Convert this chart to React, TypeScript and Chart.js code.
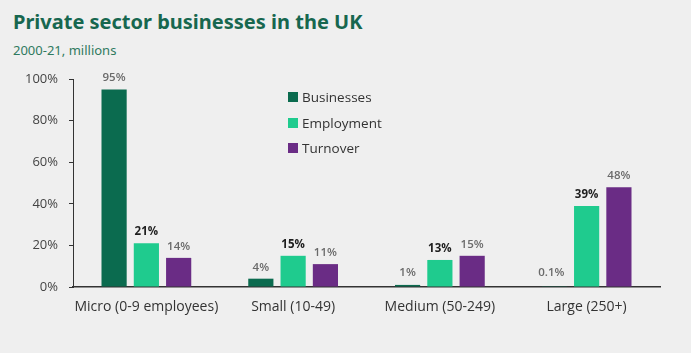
import React, { useEffect, useRef } from "react";
import { Chart, registerables } from "chart.js";

Chart.register(...registerables);

const categories = ["Micro (0-9 employees)", "Small (10-49)", "Medium (50-249)", "Large (250+)"];
const businesses = [95, 4, 1, 0.1];
const employment = [21, 15, 13, 39];
const turnover = [14, 11, 15, 48];
const yTicks = [0, 20, 40, 60, 80, 100];
const seriesNames = ["Businesses", "Employment", "Turnover"];
const seriesColors = ["#0b6b4f", "#1fcb8e", "#6a2c85"];

const labelsPlugin = {
  id: "valueLabels",
  afterDatasetsDraw(chart: any) {
    const ctx = chart.ctx;
    const zero = chart.scales.y.getPixelForValue(0);
    ctx.save();
    chart.data.datasets.forEach((ds: any, di: number) => {
      const meta = chart.getDatasetMeta(di);
      meta.data.forEach((bar: any, i: number) => {
        const v = ds.data[i];
        const bold = di === 1;
        ctx.font = (bold ? "bold " : "600 ") + "11.5px 'Open Sans', sans-serif";
        ctx.fillStyle = bold ? "#1e1e1e" : "#6a6a6a";
        ctx.textAlign = "center";
        ctx.textBaseline = "alphabetic";
        const txt = (v < 1 ? v.toFixed(1) : String(v)) + "%";
        const y = Math.min(bar.y - 8, zero - 11);
        const x = di === 0 && v < 1 ? bar.x - 3 : bar.x;
        ctx.fillText(txt, x, y);
      });
    });
    // legend
    const lx = 288;
    const ly = [97, 123, 148];
    seriesNames.forEach((name, i) => {
      ctx.fillStyle = seriesColors[i];
      ctx.fillRect(lx, ly[i] - 5, 10, 10);
      ctx.fillStyle = "#333333";
      ctx.font = "13.5px 'Open Sans', sans-serif";
      ctx.textAlign = "left";
      ctx.textBaseline = "middle";
      ctx.fillText(name, lx + 14, ly[i] + 1);
    });
    ctx.restore();
  },
};

export default function App() {
  const ref = useRef<HTMLCanvasElement>(null);
  useEffect(() => {
    if (!ref.current) return;
    const chart = new Chart(ref.current, {
      type: "bar",
      data: {
        labels: categories,
        datasets: [
          { label: seriesNames[0], data: businesses, backgroundColor: seriesColors[0] },
          { label: seriesNames[1], data: employment, backgroundColor: seriesColors[1] },
          { label: seriesNames[2], data: turnover, backgroundColor: seriesColors[2] },
        ],
      },
      options: {
        animation: false,
        responsive: false,
        maintainAspectRatio: false,
        layout: { padding: { left: 0, top: 79, right: 31, bottom: 26 } },
        datasets: { bar: { categoryPercentage: 0.66, barPercentage: 0.78 } },
        plugins: { legend: { display: false }, tooltip: { enabled: false }, title: { display: false } },
        scales: {
          x: {
            grid: { display: false, drawTicks: false },
            border: { display: true, color: "#333333", width: 1.5 },
            ticks: { color: "#333333", font: { family: "'Open Sans', sans-serif", size: 14 }, padding: 12, maxRotation: 0, minRotation: 0, autoSkip: false },
            afterFit: (s: any) => { s.height = 40; },
          },
          y: {
            min: 0,
            max: 100,
            afterBuildTicks: (s: any) => { s.ticks = yTicks.map((v) => ({ value: v })); },
            grid: { display: true, drawOnChartArea: false, drawTicks: true, tickLength: 4, color: "#333333" },
            border: { display: true, color: "#333333", width: 1 },
            ticks: { color: "#444444", font: { family: "'Open Sans', sans-serif", size: 13 }, padding: 11, callback: (v: any) => v + "%" },
            afterFit: (s: any) => { s.width = 73; },
          },
        },
      },
      plugins: [labelsPlugin],
    });
    return () => chart.destroy();
  }, []);
  return (
    <div style={{ position: "fixed", left: 0, top: 0, width: 691, height: 353, background: "#efefef", overflow: "hidden" }}>
      <div style={{ position: "absolute", left: 13, top: 8, fontFamily: "'Noto Sans', sans-serif", fontWeight: 700, fontSize: 20, color: "#17674f", whiteSpace: "nowrap" }}>
        Private sector businesses in the UK
      </div>
      <div style={{ position: "absolute", left: 13, top: 41, fontFamily: "'Noto Sans', sans-serif", fontSize: 13, color: "#2f7a60", whiteSpace: "nowrap" }}>
        2000-21, millions
      </div>
      <canvas ref={ref} width={691} height={353} style={{ position: "absolute", left: 0, top: 0 }} />
    </div>
  );
}
